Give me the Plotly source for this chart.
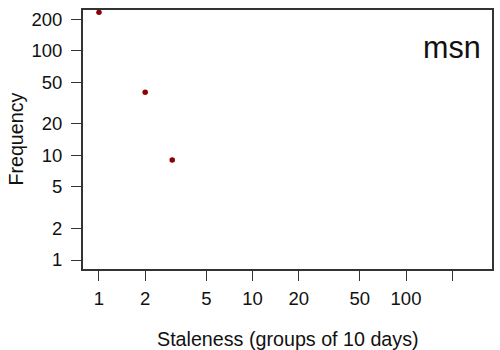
import plotly.graph_objects as go

staleness = [1, 2, 3]
frequency = [232, 40, 9]
x_ticks = [1, 2, 5, 10, 20, 50, 100, 200]
x_tick_labels = ["1", "2", "5", "10", "20", "50", "100", ""]
y_ticks = [1, 2, 5, 10, 20, 50, 100, 200]
y_tick_labels = ["1", "2", "5", "10", "20", "50", "100", "200"]

FONT = "Liberation Sans, Arial, Helvetica, sans-serif"

fig = go.Figure()
fig.add_trace(go.Scatter(
    x=staleness, y=frequency, mode="markers",
    marker=dict(color="#8B0000", size=5.5),
    showlegend=False,
))

axis_common = dict(
    showline=True, mirror=True, linecolor="#333333", linewidth=2,
    ticks="outside", ticklen=10, tickwidth=1, tickcolor="#333333",
    showgrid=False, zeroline=False,
    tickfont=dict(family=FONT, size=18.5, color="#111111"),
)

fig.update_layout(
    width=500, height=350,
    margin=dict(l=83, r=8, t=10, b=81, autoexpand=False),
    paper_bgcolor="white", plot_bgcolor="white",
    font=dict(family=FONT, size=18.5, color="#111111"),
    xaxis=dict(type="log", range=[-0.104, 2.56], tickvals=x_ticks,
               ticktext=x_tick_labels, ticklabelstandoff=2, **axis_common),
    yaxis=dict(type="log", range=[-0.086, 2.388], tickvals=y_ticks,
               ticktext=y_tick_labels, ticklabelstandoff=5, **axis_common),
    annotations=[
        dict(text="Staleness (groups of 10 days)", xref="paper", yref="paper",
             x=0.5, y=-0.272, xanchor="center", yanchor="middle",
             showarrow=False, font=dict(size=19.7)),
        dict(text="Frequency", xref="paper", yref="paper",
             x=-0.166, y=0.5, xanchor="center", yanchor="middle",
             textangle=-90, showarrow=False, font=dict(size=19.7)),
        dict(text="msn", xref="paper", yref="paper",
             x=0.978, y=0.856, xanchor="right", yanchor="middle",
             showarrow=False, font=dict(size=30.5)),
    ],
)

fig.write_html("out.html",
               config={"displayModeBar": False},
               post_script="document.body.style.margin='0';")
